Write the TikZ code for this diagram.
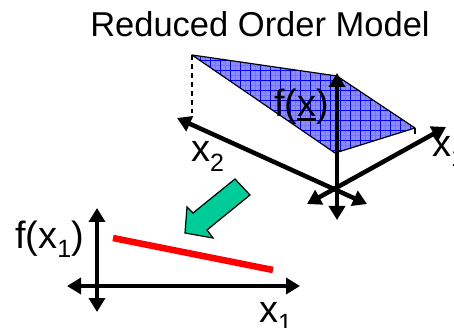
\documentclass[tikz,border=0pt]{standalone}
\usepackage{fontspec}
\setmainfont{Liberation Sans}
\usetikzlibrary{arrows.meta}
\definecolor{patchblue}{RGB}{140,140,255}
\definecolor{arrowgreen}{RGB}{0,204,153}
\newcommand\lowsub[1]{\raisebox{-9.5pt}{\fontsize{25}{25}\selectfont #1}}
\newcommand\thickul[1]{\setbox0\hbox{#1}\rlap{\rule[-4pt]{\wd0}{2.5pt}}#1}

\begin{document}
\begin{tikzpicture}[x=1pt, y=-1pt,
    axis/.style={line width=4.5pt, {Triangle[width=16pt,length=14pt]}-{Triangle[width=16pt,length=14pt]}},
    lbl/.style={inner sep=0pt, anchor=base west, font=\fontsize{38}{38}\selectfont}]
            \useasboundingbox (0,0) rectangle (454,328);

            % plane patch of the full model
            \coordinate (P1) at (192,55);
            \coordinate (P2) at (337,76);
            \coordinate (P3) at (415,128);
            \coordinate (P4) at (335,153);
            \fill[patchblue] (P1) -- (P2) -- (P3) -- (P4) -- cycle;
            \begin{scope}
                \clip (P1) -- (P2) -- (P3) -- (P4) -- cycle;
                \draw[blue!55, line width=0.3pt, step=5pt] (180,40) grid (430,160);
                \draw[blue, line width=0.7pt, step=10pt] (180,40) grid (430,160);
            \end{scope}
            \draw[line width=1.2pt, line join=round] (P1) -- (P2) -- (P3) -- (P4) -- cycle;

            % drop lines
            \coordinate (D1) at (192,113);
            \coordinate (D3) at (415,134);
            \draw[line width=1.5pt, dash pattern=on 5pt off 4pt] (P1) -- (D1);
            \draw[line width=1.5pt] (P3) -- (D3);

            % 3d axes
            \coordinate (Zt) at (337,73);
            \coordinate (Zb) at (337,220);
            \coordinate (X2a) at (177,118);
            \coordinate (X2b) at (367,204);
            \coordinate (X1a) at (307,204);
            \coordinate (X1b) at (446,127);
            \draw[axis] (X2a) -- (X2b);
            \draw[axis] (X1a) -- (X1b);
            \draw[axis] (Zb) -- (Zt);

            \node[lbl] (fx) at (274,117) {f(\thickul{x})};
            \node[lbl] (xtwo) at (191,162) {x\lowsub{2}};
            \node[lbl] (xone) at (432,157) {x\lowsub{1}};
            \node[inner sep=0pt, anchor=base, font=\fontsize{34.5}{34.5}\selectfont] (title) at (260,37) {Reduced Order Model};

            % reduction arrow
            \coordinate (A) at (235,179);
            \coordinate (B) at (250,195);
            \coordinate (N1) at (193,213);
            \coordinate (N2) at (207,230);
            \coordinate (B1) at (187,207);
            \coordinate (B2) at (213,238);
            \coordinate (T) at (185,233);
            \filldraw[fill=arrowgreen, line width=1.2pt, line join=miter] (A) -- (N1) -- (B1) -- (T) -- (B2) -- (N2) -- (B) -- cycle;

            % 1d plot
            \coordinate (Ft) at (97,208);
            \coordinate (Fb) at (97,312);
            \coordinate (Hl) at (67,286);
            \coordinate (Hr) at (300,286);
            \draw[axis] (Hl) -- (Hr);
            \draw[axis] (Fb) -- (Ft);
            \coordinate (R1) at (113,238);
            \coordinate (R2) at (273,270);
            \draw[red, line width=6.5pt] (R1) -- (R2);

            \node[lbl] (fxone) at (15,248) {f(x\lowsub{1})};
            \node[lbl] (xlow) at (259,322) {x\lowsub{1}};
\end{tikzpicture}
\end{document}
